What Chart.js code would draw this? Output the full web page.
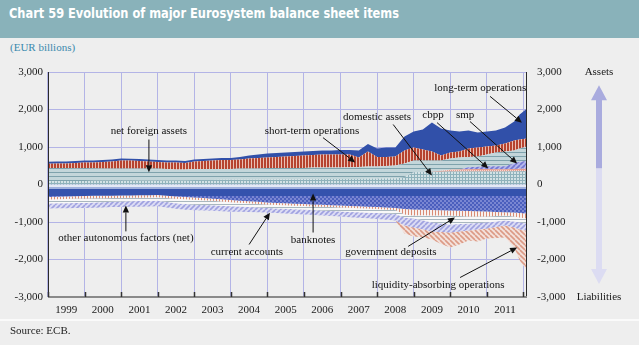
<!DOCTYPE html>
<html><head><meta charset="utf-8">
<script src="https://cdn.jsdelivr.net/npm/chart.js@4.4.0/dist/chart.umd.min.js"></script>
<style>
html,body{margin:0;padding:0;}
body{width:639px;height:345px;background:#eeeeee;position:relative;overflow:hidden;}
#hdr{position:absolute;left:0;top:0;width:639px;height:38px;background:#89b2ba;}
#title{position:absolute;left:9px;top:5px;color:#fff;font:bold 14px "DejaVu Sans Condensed","DejaVu Sans",sans-serif;white-space:nowrap;transform-origin:0 0;}
#unit{position:absolute;left:10px;top:41px;font:11px "Liberation Serif",serif;color:#3a89ad;}
#sep{position:absolute;left:0;top:319px;width:639px;height:2px;background:#fafafa;}
#src{position:absolute;left:10px;top:324px;font:11px "Liberation Serif",serif;color:#222;}
canvas{position:absolute;left:0;top:0;}
</style></head>
<body>
<div id="hdr"></div>
<div id="title">Chart 59 Evolution of major Eurosystem balance sheet items</div>
<div id="unit">(EUR billions)</div>
<canvas id="c" width="639" height="345"></canvas>
<div id="sep"></div>
<div id="src">Source: ECB.</div>
<script>
// ---- data (EUR billions), quarterly observations ----
const dates = [1999,1999.25,1999.5,1999.75,2000,2000.25,2000.5,2000.75,2001,2001.25,2001.5,2001.75,
 2002,2002.25,2002.5,2002.75,2003,2003.25,2003.5,2003.75,2004,2004.25,2004.5,2004.75,
 2005,2005.25,2005.5,2005.75,2006,2006.25,2006.5,2006.75,2007,2007.25,2007.5,2007.75,
 2008,2008.25,2008.5,2008.75,2009,2009.25,2009.5,2009.75,2010,2010.25,2010.5,2010.75,
 2011,2011.25,2011.5,2011.75,2011.9,2012.1];
const yearLabels = ['1999','2000','2001','2002','2003','2004','2005','2006','2007','2008','2009','2010','2011'];
const yTickValues = [-3000,-2000,-1000,0,1000,2000,3000];

// assets
const domesticAssets = [90,90,95,95, 95,100,100,100, 100,100,105,105, 110,110,115,115, 120,120,120,125,
 125,125,130,130, 130,135,135,135, 140,140,145,145, 145,150,150,155, 155,160,160,200,
 330,335,340,340, 345,345,345,350, 350,350,350,355, 355,355];
const cbpp = [0,0,0,0, 0,0,0,0, 0,0,0,0, 0,0,0,0, 0,0,0,0, 0,0,0,0, 0,0,0,0, 0,0,0,0, 0,0,0,0,
 0,0,0,0, 0,0,10,30, 50,58,60,61, 61,60,60,58, 62,62];
const smp = [0,0,0,0, 0,0,0,0, 0,0,0,0, 0,0,0,0, 0,0,0,0, 0,0,0,0, 0,0,0,0, 0,0,0,0, 0,0,0,0,
 0,0,0,0, 0,0,0,0, 0,0,55,65, 75,76,75,155, 190,210];
const netForeignAssets = [350,350,345,340, 345,335,327,327, 327,327,322,322, 317,303,285,285,
 293,293,293,288, 288,302,297,297, 310,305,305,305, 300,313,308,308, 308,311,317,325,
 325,333,347,360, 310,305,290,270, 298,317,273,271, 314,367,395,339, 353,386];
const shortTermOps = [112,120,120,138, 147,152,173,186, 213,213,200,186, 173,174,187,173,
 200,214,227,240, 240,240,266,280, 280,293,307,320, 333,334,347,347, 347,339,253,400,
 253,240,240,347, 347,293,240,133, 160,160,227,240, 213,187,213,266, 240,214];
const longTermOps = [53,53,53,54, 53,53,53,54, 53,50,53,54, 53,53,53,54, 54,53,53,54,
 54,66,80,93, 107,107,106,107, 107,106,107,107, 120,120,187,200, 227,254,240,373,
 426,534,773,720, 587,533,480,400, 400,400,427,507, 667,800];

// liabilities (shown below zero)
const banknotes = [333,325,318,310, 307,303,300,297, 293,290,287,284, 280,300,320,335,
 347,362,378,395, 413,430,447,463, 480,490,500,510, 520,530,540,550, 560,570,580,590,
 600,613,627,653, 667,673,680,687, 693,700,707,713, 720,730,739,747, 760,773];
const govDeposits = [67,67,67,66, 66,65,65,64, 64,63,63,62, 62,61,60,60, 59,58,58,57,
 57,56,56,55, 55,55,54,54, 54,54,53,53, 53,53,53,53, 53,53,53,147,
 160,150,147,140, 133,140,147,140, 133,110,88,107, 120,133];
const otherAutonomous = [107,110,115,118, 120,112,105,98, 93,93,93,93, 93,105,118,128,
 133,126,118,112, 107,103,98,95, 93,93,93,93, 93,97,100,104, 107,107,107,107,
 107,107,107,80, 80,133,187,213, 240,213,187,173, 160,147,133,133, 133,133];
const currentAccounts = [133,133,133,133, 133,137,140,143, 147,147,147,147, 147,147,147,147,
 147,147,147,147, 147,140,133,127, 120,123,127,130, 133,133,133,133, 133,140,147,153,
 160,167,173,213, 240,240,240,227, 213,200,187,173, 160,147,133,160, 187,187];
const liquidityAbsorbing = [0,0,0,0, 0,0,0,0, 0,0,0,0, 0,0,0,0, 0,0,0,0, 0,0,0,0, 0,0,0,0,
 0,0,0,0, 0,0,0,0, 0,0,0,213, 240,213,213,320, 400,347,267,320, 267,293,320,533, 827,1067];

// ---- fit title width ----
(function(){const t=document.getElementById('title');const w=t.getBoundingClientRect().width;if(w>0)t.style.transform='scaleX('+(390/w)+')';})();

// ---- fill patterns ----
function mk(w,h,fn){const c=document.createElement('canvas');c.width=w;c.height=h;const g=c.getContext('2d');fn(g,w,h);return g.createPattern(c,'repeat');}
function hatch(s,bg,fg,dir){return mk(s,s,(g)=>{g.fillStyle=bg;g.fillRect(0,0,s,s);g.strokeStyle=fg;g.lineWidth=1.6;g.beginPath();
  for(const o of [-s,0,s]){ if(dir==='/'){g.moveTo(o,s);g.lineTo(o+s,0);} else {g.moveTo(o,0);g.lineTo(o+s,s);} } g.stroke();});}
const P = {
  lt:'#3150a9',
  st: mk(3,1,(g)=>{g.fillStyle='#e9c0b4';g.fillRect(0,0,3,1);g.fillStyle='#b6432f';g.fillRect(0,0,2,1);}),
  nfa: mk(1,4,(g)=>{g.fillStyle='#c3d6da';g.fillRect(0,0,1,4);g.fillStyle='#7ea2ac';g.fillRect(0,0,1,1);}),
  dom: mk(3,3,(g)=>{g.fillStyle='#d3e2e5';g.fillRect(0,0,3,3);g.fillStyle='#8fb2bb';g.fillRect(0,0,3,1);g.fillRect(0,0,1,3);}),
  cbpp: mk(2,2,(g)=>{g.fillStyle='#e39c8e';g.fillRect(0,0,2,2);g.fillStyle='#f6d8d2';g.fillRect(0,0,1,1);}),
  smp: hatch(5,'#b4b7ea','#7478d2','/'),
  gov: mk(3,1,(g)=>{g.fillStyle='#f7f1ef';g.fillRect(0,0,3,1);g.fillStyle='#d98a73';g.fillRect(0,0,1,1);}),
  oth: mk(1,3,(g)=>{g.fillStyle='#f8f8f8';g.fillRect(0,0,1,3);g.fillStyle='#a9b7bf';g.fillRect(0,0,1,1);}),
  ca: hatch(5,'#dcdcf3','#9fa1e0','/'),
  la: hatch(5,'#f3e1db','#dc9a85','\\')
};
let bnPattern=null;
function banknoteFill(ctx){
  const chart=ctx.chart; const ys=chart.scales&&chart.scales.y;
  if(!ys||!chart.chartArea||!isFinite(ys.getPixelForValue(0))) return '#4a5fbb';
  if(bnPattern) return bnPattern;
  const y0=Math.round(ys.getPixelForValue(0));
  const c=document.createElement('canvas');c.width=4;c.height=chart.height;const g=c.getContext('2d');
  for(let r=0;r<c.height;r++){for(let col=0;col<4;col++){const d=r-y0;let col2;
    if(d<2)col2='#e4e9f5';else if(d<4)col2='#9fafdc';else if(d<11)col2='#3452ad';
    else col2=((Math.floor(col/2)+Math.floor(r/2))%2)?'#4a5ebd':'#7986d2';
    g.fillStyle=col2;g.fillRect(col,r,1,1);}}
  bnPattern=g.createPattern(c,'repeat');return bnPattern;
}

const pos=(arr)=>dates.map((d,i)=>({x:d,y:arr[i]}));
const neg=(arr)=>dates.map((d,i)=>({x:d,y:-arr[i]}));
function ds(label,data,bg,fill,stack){return {label,data,backgroundColor:bg,borderColor:'rgba(0,0,0,0)',borderWidth:0,pointRadius:0,pointHoverRadius:0,fill,stack,tension:0};}

// annotations: [text, textYear, textValue, fromYear, fromValue, toYear, toValue]
const notes = [
 ['net foreign assets',2001.76,1413,2001.76,1200,2001.76,330],
 ['short-term operations',2006.22,1413,2006.52,1250,2007.40,590],
 ['domestic assets',2008.0,1790,2008.44,1600,2009.50,240],
 ['cbpp',2009.53,1840,2009.64,1650,2011.04,430],
 ['smp',2010.41,1840,2010.54,1680,2011.83,560],
 ['long-term operations',2010.82,2560,2011.09,2350,2011.96,1650],
 ['other autonomous factors (net)',2001.13,-1440,2001.13,-1250,2001.13,-560],
 ['current accounts',2004.44,-1813,2004.50,-1600,2005.07,-750],
 ['banknotes',2006.25,-1493,2006.25,-1280,2006.25,-240],
 ['government deposits',2008.38,-1813,2008.85,-1650,2010.13,-880],
 ['liquidity-absorbing operations',2009.67,-2693,2010.27,-2480,2011.83,-1680]
];

function arrow(ctx,x1,y1,x2,y2){const a=Math.atan2(y2-y1,x2-x1);const L=7,W=3.2;const bx=x2-L*Math.cos(a),by=y2-L*Math.sin(a);
 ctx.beginPath();ctx.moveTo(x1,y1);ctx.lineTo(bx,by);ctx.stroke();
 ctx.beginPath();ctx.moveTo(x2,y2);ctx.lineTo(bx+W*Math.sin(a),by-W*Math.cos(a));ctx.lineTo(bx-W*Math.sin(a),by+W*Math.cos(a));ctx.closePath();ctx.fill();}

const deco={id:'deco',afterDraw(chart){
  const {ctx,chartArea:a,scales:{x,y}}=chart;ctx.save();
  // frame
  ctx.strokeStyle='#2a2a2a';ctx.lineWidth=1;ctx.beginPath();
  ctx.moveTo(a.left+0.5,a.top);ctx.lineTo(a.left+0.5,a.bottom);
  ctx.moveTo(a.right-0.5,a.top);ctx.lineTo(a.right-0.5,a.bottom);ctx.stroke();
  ctx.strokeStyle='#8a8a8a';ctx.lineWidth=2;ctx.beginPath();ctx.moveTo(a.left,a.bottom);ctx.lineTo(a.right,a.bottom);ctx.stroke();
  ctx.strokeStyle='#333';ctx.lineWidth=1.5;ctx.beginPath();
  const yrs=yearLabels.map(Number);yrs.push(yrs[yrs.length-1]+1);
  for(const yr of yrs){const px=Math.round(x.getPixelForValue(yr))+0.5;ctx.moveTo(px,a.bottom);ctx.lineTo(px,a.bottom-5);}
  ctx.stroke();
  // annotations
  ctx.font='11px "Liberation Serif", serif';ctx.textAlign='center';ctx.textBaseline='middle';
  ctx.fillStyle='#111';ctx.strokeStyle='#111';ctx.lineWidth=1;
  for(const n of notes){
    ctx.fillText(n[0],x.getPixelForValue(n[1]),y.getPixelForValue(n[2]));
    arrow(ctx,x.getPixelForValue(n[3]),y.getPixelForValue(n[4]),x.getPixelForValue(n[5]),y.getPixelForValue(n[6]));
  }
  // double arrow on the right
  const cx=a.right+72;const hw=8,sw=3;
  const tTop=y.getPixelForValue(2650),bTop=y.getPixelForValue(2250),mid=y.getPixelForValue(430),bBot=y.getPixelForValue(-2250),tBot=y.getPixelForValue(-2650);
  ctx.fillStyle='#a9abde';ctx.beginPath();ctx.moveTo(cx,tTop);ctx.lineTo(cx+hw,bTop);ctx.lineTo(cx+sw,bTop);ctx.lineTo(cx+sw,mid);ctx.lineTo(cx-sw,mid);ctx.lineTo(cx-sw,bTop);ctx.lineTo(cx-hw,bTop);ctx.closePath();ctx.fill();
  ctx.fillStyle='#dcdcf2';ctx.beginPath();ctx.moveTo(cx-sw,mid);ctx.lineTo(cx+sw,mid);ctx.lineTo(cx+sw,bBot);ctx.lineTo(cx+hw,bBot);ctx.lineTo(cx,tBot);ctx.lineTo(cx-hw,bBot);ctx.lineTo(cx-sw,bBot);ctx.closePath();ctx.fill();
  ctx.fillStyle='#1a1a1a';
  ctx.fillText('Assets',cx,y.getPixelForValue(3000));
  ctx.fillText('Liabilities',cx,y.getPixelForValue(-3000));
  ctx.restore();
}};

Chart.defaults.font.family='"Liberation Serif", serif';
Chart.defaults.font.size=11;
Chart.defaults.color='#1a1a1a';
const fmt=(v)=>Number(v).toLocaleString('en-US');

new Chart(document.getElementById('c'),{
  type:'line',
  data:{datasets:[
    ds('domestic assets',pos(domesticAssets),P.dom,'origin','A'),
    ds('cbpp',pos(cbpp),P.cbpp,'-1','A'),
    ds('smp',pos(smp),P.smp,'-1','A'),
    ds('net foreign assets',pos(netForeignAssets),P.nfa,'-1','A'),
    ds('short-term operations',pos(shortTermOps),P.st,'-1','A'),
    ds('long-term operations',pos(longTermOps),P.lt,'-1','A'),
    ds('banknotes',neg(banknotes),banknoteFill,'origin','L'),
    ds('government deposits',neg(govDeposits),P.gov,'-1','L'),
    ds('other autonomous factors (net)',neg(otherAutonomous),P.oth,'-1','L'),
    ds('current accounts',neg(currentAccounts),P.ca,'-1','L'),
    ds('liquidity-absorbing operations',neg(liquidityAbsorbing),P.la,'-1','L')
  ]},
  options:{
    responsive:false,animation:false,events:[],
    layout:{padding:{top:72,left:0,right:0,bottom:0}},
    plugins:{legend:{display:false},tooltip:{enabled:false}},
    scales:{
      x:{type:'linear',min:1999,max:2012.1,
        afterBuildTicks:(ax)=>{ax.ticks=yearLabels.map(l=>({value:Number(l)+0.5}));},
        ticks:{autoSkip:false,maxRotation:0,padding:7,callback:(v,i)=>yearLabels[i]},
        grid:{offset:true,color:'#b3b4e6',drawTicks:false},
        border:{display:false},
        afterFit:(s)=>{s.height=48;}},
      y:{type:'linear',position:'left',min:-3000,max:3000,stacked:true,
        afterBuildTicks:(ax)=>{ax.ticks=yTickValues.map(v=>({value:v}));},
        ticks:{padding:5,callback:fmt},
        grid:{color:'#b3b4e6',drawTicks:false},
        border:{display:false},
        afterFit:(s)=>{s.width=48;}},
      y2:{type:'linear',position:'right',min:-3000,max:3000,
        afterBuildTicks:(ax)=>{ax.ticks=yTickValues.map(v=>({value:v}));},
        ticks:{padding:10,callback:fmt},
        grid:{display:false,drawTicks:false},
        border:{display:false},
        afterFit:(s)=>{s.width=112;}}
    }
  },
  plugins:[deco]
});
</script>
</body></html>
